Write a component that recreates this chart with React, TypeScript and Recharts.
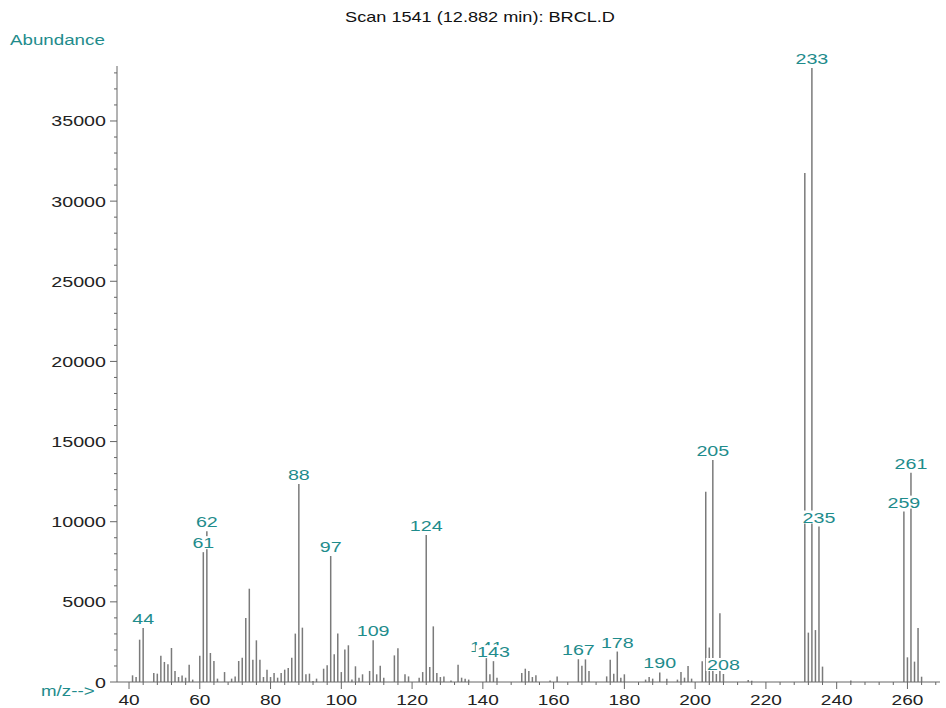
import React from 'react';
import { BarChart, Bar, XAxis, YAxis, LabelList } from 'recharts';

// m/z values and abundances
const mzValues = [
  41, 42, 43, 44, 47, 48, 49, 50, 51, 52, 53, 54, 55, 56, 57, 58, 60, 61, 62, 63, 64, 65, 67, 69, 70,
  71, 72, 73, 74, 75, 76, 77, 78, 79, 80, 81, 82, 83, 84, 85, 86, 87, 88, 89, 90, 91, 92, 93, 95, 96,
  97, 98, 99, 100, 101, 102, 103, 104, 105, 106, 108, 109, 110, 111, 112, 115, 116, 118, 119, 122, 123,
  124, 125, 126, 127, 128, 129, 131, 133, 134, 135, 136, 141, 142, 143, 144, 151, 152, 153, 154, 155,
  159, 161, 167, 168, 169, 170, 175, 176, 177, 178, 179, 180, 186, 187, 188, 190, 192, 195, 196, 197,
  198, 199, 202, 203, 204, 205, 206, 207, 208, 215, 216, 231, 232, 233, 234, 235, 236, 244, 259, 260,
  261, 262, 263, 264,
];
const abundances = [
  416, 312, 2640, 3370, 560, 520, 1640, 1250, 1100, 2120, 690, 310, 400, 270, 1080, 150, 1640, 8100, 9400, 1810, 1310, 210, 620, 210, 350,
  1310, 1520, 3990, 5820, 1390, 2600, 1390, 310, 770, 310, 560, 270, 560, 770, 870, 1520, 3020, 12350, 3390, 480, 520, 60, 210, 830, 1040,
  7860, 1730, 3020, 620, 2020, 2290, 150, 980, 270, 480, 690, 2600, 480, 1020, 270, 1660, 2100, 480, 350, 270, 620,
  9170, 940, 3470, 560, 310, 350, 100, 1080, 270, 210, 150, 1600, 480, 1300, 270, 560, 830, 690, 310, 420,
  100, 350, 1420, 1020, 1410, 690, 350, 1390, 520, 1900, 270, 480, 150, 310, 210, 600, 210, 150, 620, 270,
  1000, 210, 1290, 11870, 2150, 13850, 500, 4290, 500, 120, 80, 31750, 3080, 38300, 3240, 9700, 960, 90, 10630, 1540,
  13060, 1270, 3370, 330,
];
const labelledPeaks = [44, 61, 62, 88, 97, 109, 124, 141, 143, 167, 178, 190, 205, 208, 233, 235, 259, 261];

const xMajorTicks = [40, 60, 80, 100, 120, 140, 160, 180, 200, 220, 240, 260];
const yMajorTicks = [0, 5000, 10000, 15000, 20000, 25000, 30000, 35000];

const xTicks: number[] = [];
for (let v = 40; v <= 268; v += 4) xTicks.push(v);
const yTicks: number[] = [];
for (let v = 0; v <= 38000; v += 1000) yTicks.push(v);

const spectrum = mzValues.map((m, i) => ({
  mz: m,
  abundance: abundances[i],
  label: labelledPeaks.includes(m) ? String(m) : '',
}));

const FONT = '"Liberation Sans", Arial, sans-serif';
const TEAL = '#1f8c8c';
const STRETCH = 1.27;

const XTick = (props: any) => {
  const { x, y, payload } = props;
  const major = xMajorTicks.includes(payload.value);
  return (
    <g>
      <line x1={x} x2={x} y1={y} y2={y + (major ? 7 : 3)} stroke="#666" strokeWidth={1} />
      {major && (
        <g transform={`translate(${x},${y + 22.5}) scale(${STRETCH},1)`}>
          <text textAnchor="middle" fontSize={15} fontFamily={FONT} fill="#222">
            {payload.value}
          </text>
        </g>
      )}
    </g>
  );
};

const YTick = (props: any) => {
  const { x, y, payload } = props;
  const major = yMajorTicks.includes(payload.value);
  return (
    <g>
      <line x1={x} x2={x - (major ? 7 : 3)} y1={y} y2={y} stroke="#666" strokeWidth={1} />
      {major && (
        <g transform={`translate(${x - 11},${y + 5.5}) scale(${STRETCH},1)`}>
          <text textAnchor="end" fontSize={15.5} fontFamily={FONT} fill="#222">
            {payload.value}
          </text>
        </g>
      )}
    </g>
  );
};

const PeakLabel = (props: any) => {
  const vb = props.viewBox || props;
  const { value } = props;
  if (!value) return null;
  const cx = vb.x + vb.width / 2;
  const top = vb.y;
  const w = String(value).length * 8.6 + 2;
  return (
    <g transform={`translate(${cx},${top - 4}) scale(${STRETCH},1)`}>
      <rect x={-w / 2} y={-12} width={w} height={13} fill="#fff" />
      <text textAnchor="middle" fontSize={15.5} fontFamily={FONT} fill={TEAL}>
        {value}
      </text>
    </g>
  );
};

export default function App() {
  return (
    <div style={{ position: 'absolute', left: 0, top: 0, width: 946, height: 708, background: '#fff' }}>
      <BarChart
        width={946}
        height={708}
        data={spectrum}
        margin={{ top: 66, right: 6, bottom: 0, left: 0 }}
        barSize={1.5}
      >
        <XAxis
          type="number"
          dataKey="mz"
          domain={[36.6, 269.2]}
          allowDataOverflow
          ticks={xTicks}
          interval={0}
          height={26}
          tickSize={0}
          tickMargin={0}
          tickLine={false}
          axisLine={{ stroke: '#666' }}
          tick={<XTick />}
        />
        <YAxis
          type="number"
          domain={[0, 38430]}
          allowDataOverflow
          ticks={yTicks}
          interval={0}
          width={117}
          tickSize={0}
          tickMargin={0}
          tickLine={false}
          axisLine={{ stroke: '#666' }}
          tick={<YTick />}
        />
        <Bar dataKey="abundance" fill="#7a7a7a" isAnimationActive={false}>
          <LabelList dataKey="label" content={<PeakLabel />} />
        </Bar>
      </BarChart>
      <svg
        width={946}
        height={708}
        style={{ position: 'absolute', left: 0, top: 0, pointerEvents: 'none' }}
      >
        <g transform={`translate(480,22) scale(1.25,1)`}>
          <text textAnchor="middle" fontSize={14.5} fontFamily={FONT} fill="#111">
            Scan 1541 (12.882 min): BRCL.D
          </text>
        </g>
        <g transform={`translate(10,45) scale(1.25,1)`}>
          <text fontSize={15} fontFamily={FONT} fill={TEAL}>
            Abundance
          </text>
        </g>
        <g transform={`translate(41,696) scale(1.25,1)`}>
          <text fontSize={15} fontFamily={FONT} fill={TEAL}>
            m/z--&gt;
          </text>
        </g>
      </svg>
    </div>
  );
}
